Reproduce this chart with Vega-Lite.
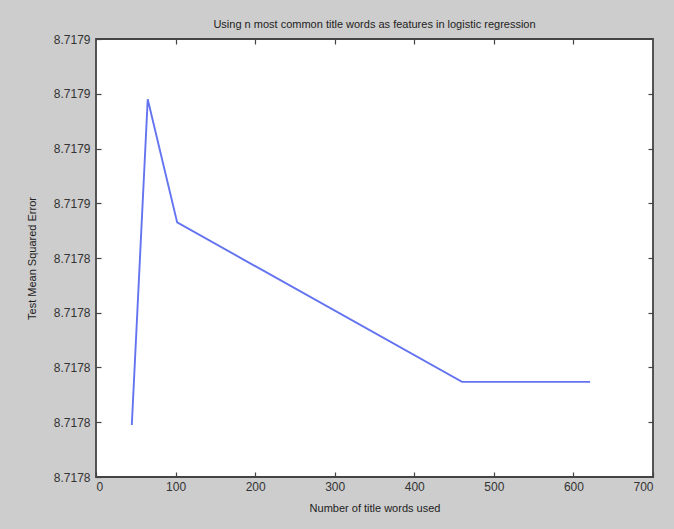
{
  "$schema": "https://vega.github.io/schema/vega-lite/v6.json",
  "width": 557,
  "height": 438,
  "autosize": {"type": "none"},
  "padding": {"left": 96, "top": 39, "right": 21, "bottom": 52},
  "background": "#cdcdcd",
  "title": {
    "text": "Using n most common title words as features in logistic regression",
    "fontSize": 11,
    "font": "Liberation Sans",
    "fontWeight": "normal",
    "color": "#222222",
    "offset": 3,
    "anchor": "middle"
  },
  "config": {
    "view": {"fill": "white", "stroke": "#444444", "strokeWidth": 1.8},
    "axis": {
      "grid": false,
      "domain": false,
      "labelFont": "Liberation Sans",
      "titleFont": "Liberation Sans",
      "labelFontSize": 12,
      "titleFontSize": 11,
      "titleFontWeight": "normal",
      "labelColor": "#333333",
      "titleColor": "#222222",
      "tickColor": "#444444",
      "tickSize": -5,
      "tickWidth": 1.2
    }
  },
  "data": {
    "values": [
      {"n": 45, "mse": 8.7178226},
      {"n": 65, "mse": 8.7178702},
      {"n": 102, "mse": 8.7178522},
      {"n": 460, "mse": 8.7178289},
      {"n": 621, "mse": 8.7178289}
    ]
  },
  "layer": [
    {
      "mark": {"type": "line", "color": "#6474f0", "strokeWidth": 1.9},
      "encoding": {
        "x": {
          "field": "n",
          "type": "quantitative",
          "scale": {"domain": [0, 700], "nice": false, "zero": false},
          "axis": {
            "title": "Number of title words used",
            "values": [0, 100, 200, 300, 400, 500, 600, 700],
            "labelPadding": 9,
            "titlePadding": 10
          }
        },
        "y": {
          "field": "mse",
          "type": "quantitative",
          "scale": {"domain": [8.717815, 8.717879], "nice": false, "zero": false},
          "axis": {
            "title": "Test Mean Squared Error",
            "values": [8.717815, 8.717823, 8.717831, 8.717839, 8.717847, 8.717855, 8.717863, 8.717871, 8.717879],
            "format": ".4f",
            "labelPadding": 11,
            "titlePadding": 16
          }
        }
      }
    },
    {
      "mark": {"type": "line", "opacity": 0},
      "encoding": {
        "x": {
          "field": "n",
          "type": "quantitative",
          "axis": {"orient": "top", "labels": false, "title": null, "values": [100, 200, 300, 400, 500, 600]}
        },
        "y": {
          "field": "mse",
          "type": "quantitative",
          "axis": {"orient": "right", "labels": false, "title": null, "values": [8.717823, 8.717831, 8.717839, 8.717847, 8.717855, 8.717863, 8.717871]}
        }
      }
    }
  ],
  "resolve": {"axis": {"x": "independent", "y": "independent"}}
}
